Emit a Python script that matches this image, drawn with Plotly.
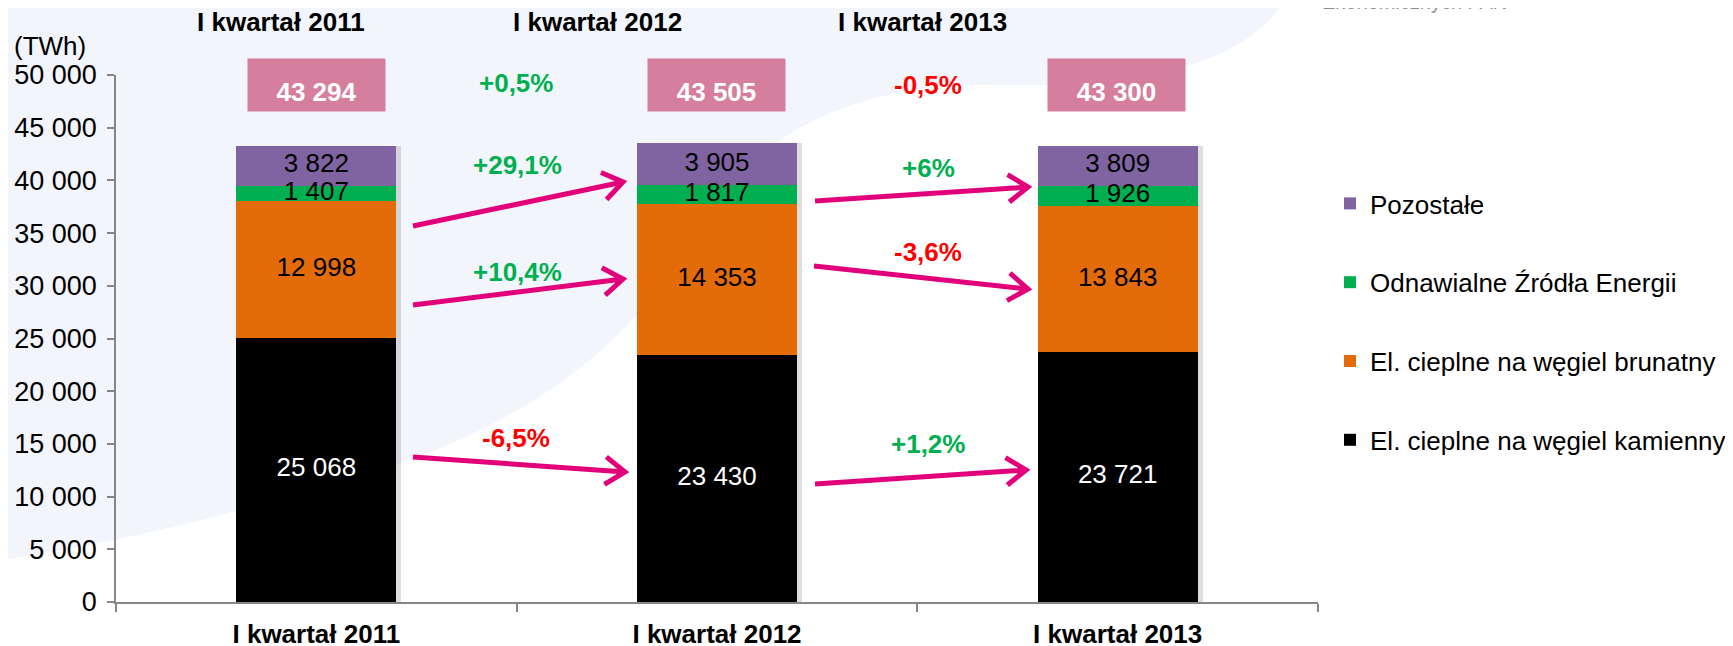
import math
import plotly.graph_objects as go

# ---------------- data ----------------
categories = ["I kwartał 2011", "I kwartał 2012", "I kwartał 2013"]
kamienny = [25068, 23430, 23721]
brunatny = [12998, 14353, 13843]
oze = [1407, 1817, 1926]
pozostale = [3822, 3905, 3809]
totals = [43294, 43505, 43300]
total_changes = ["+0,5%", "-0,5%"]
oze_changes = ["+29,1%", "+6%"]
brunatny_changes = ["+10,4%", "-3,6%"]
kamienny_changes = ["-6,5%", "+1,2%"]
series_names = ["El. cieplne na węgiel kamienny", "El. cieplne na węgiel brunatny",
                "Odnawialne Źródła Energii", "Pozostałe"]
top_titles = ["I kwartał 2011", "I kwartał 2012", "I kwartał 2013"]

# ---------------- style ----------------
FONT = "Liberation Sans, Arial, sans-serif"
colors = ["#000000", "#E36C09", "#00B050", "#8064A2"]
text_colors = ["#FFFFFF", "#000000", "#000000", "#000000"]
legend_ranks = [4, 3, 2, 1]
GREEN = "#00B050"
RED = "#FF0000"
PINK = "#D67E9D"
MAGENTA = "#E2007A"
AXIS = "#868686"

W, H = 1733, 646
OFF = 8                      # page offset of the figure inside the window
ML, MT = 108, 67
PW, PH = 1202, 527
MR, MB = W - ML - PW, H - MT - PH
YMAX = 50000


def paper(px, py):
    """window pixel -> paper coordinates"""
    return (px - OFF - ML) / PW, (MT + PH - (py - OFF)) / PH


def pt(px, py):
    x, y = paper(px, py)
    return f"{x:.5f},{y:.5f}"


def fmt(v):
    return f"{v:,}".replace(",", " ")


fig = go.Figure()

# soft shadow behind the stacks (primary x axis, main bars on the overlay axis)
fig.add_trace(go.Bar(
    x=categories, y=totals, xaxis="x", yaxis="y",
    width=0.4, offset=-0.2 + 5 / 400,
    marker=dict(color="rgba(0,0,0,0.13)", line=dict(width=0)),
    showlegend=False, hoverinfo="skip"))

series = [kamienny, brunatny, oze, pozostale]
for name, vals, col, rk in zip(series_names, series, colors, legend_ranks):
    fig.add_trace(go.Bar(
        x=categories, y=vals, name=name, xaxis="x2", yaxis="y",
        marker=dict(color=col, line=dict(width=0)),
        legendgroup=name, legendrank=rk,
    ))

# segment value labels, drawn above all bars
base = [0] * len(categories)
for vals, tcol in zip(series, text_colors):
    mids = [b + v / 2 for b, v in zip(base, vals)]
    fig.add_trace(go.Scatter(
        x=categories, y=mids, xaxis="x2", yaxis="y", mode="text",
        text=[fmt(v) for v in vals], textposition="middle center",
        textfont=dict(family=FONT, size=26, color=tcol),
        showlegend=False, hoverinfo="skip"))
    base = [b + v for b, v in zip(base, vals)]

annotations = []
shapes = []

# faint background watermark swoosh
sw = ("M " + pt(0, 0) + " L " + pt(1285, 0) + " Q " + pt(1230, 90) + " " + pt(1000, 85)
      + " Q " + pt(780, 80) + " " + pt(690, 240) + " Q " + pt(600, 400) + " " + pt(380, 470)
      + " Q " + pt(150, 540) + " " + pt(0, 560) + " Z")
shapes.append(dict(type="path", path=sw, xref="paper", yref="paper",
                   fillcolor="#F3F5FC", line=dict(width=0), layer="below"))


def label(text, px, py, size=26, color="#000000", bold=False, **kw):
    x, y = paper(px, py)
    f = dict(family=FONT, size=size, color=color)
    if bold:
        f["weight"] = "bold"
    d = dict(x=x, y=y, xref="paper", yref="paper", text=text, showarrow=False,
             xanchor="center", yanchor="middle", font=f)
    d.update(kw)
    annotations.append(d)


# y axis unit
label("(TWh)", 50, 46)

# top titles
for t, px in zip(top_titles, [281, 597, 922]):
    label(t, px, 22, bold=True)

# totals in pink boxes
for i, tot in enumerate(totals):
    label(fmt(tot), OFF + ML + 200 + 400 * i, 85, color="#FFFFFF",
          bold=True, bgcolor=PINK, width=129, height=44, borderpad=4, valign="bottom")

# percent labels
pct_labels = [
    (total_changes[0], 516, 83), (total_changes[1], 928, 85),
    (oze_changes[0], 517, 165), (oze_changes[1], 928, 168),
    (brunatny_changes[0], 517, 272), (brunatny_changes[1], 928, 252),
    (kamienny_changes[0], 516, 438), (kamienny_changes[1], 928, 444),
]
for txt, px, py in pct_labels:
    label(txt, px, py, color=RED if txt.startswith("-") else GREEN, bold=True)

# arrows (window pixel positions of tail and tip)
arrows = [
    (413, 226, 623, 182), (413, 305, 623, 279), (413, 457, 625, 472),
    (815, 201, 1028, 187), (814, 266, 1028, 289), (815, 484, 1026, 470),
]
HEAD = 24
ANG = math.radians(35)
for x0, y0, x1, y1 in arrows:
    a = math.atan2(y1 - y0, x1 - x0)
    hx1, hy1 = x1 - HEAD * math.cos(a - ANG), y1 - HEAD * math.sin(a - ANG)
    hx2, hy2 = x1 - HEAD * math.cos(a + ANG), y1 - HEAD * math.sin(a + ANG)
    path = ("M " + pt(x0, y0) + " L " + pt(x1, y1) + " M " + pt(hx1, hy1)
            + " L " + pt(x1, y1) + " L " + pt(hx2, hy2))
    shapes.append(dict(type="path", path=path, xref="paper", yref="paper",
                       line=dict(color=MAGENTA, width=5), layer="above"))

# source text, cut off at the top edge as in the original
label("Ekonomicznych PAN", 1414, 2, size=20, color="#8C8C8C")

fig.update_layout(
    width=W, height=H,
    margin=dict(l=ML, r=MR, t=MT, b=MB, autoexpand=False),
    paper_bgcolor="#FFFFFF", plot_bgcolor="rgba(0,0,0,0)",
    barmode="stack", bargap=0.6,
    separators=", ",
    font=dict(family=FONT, size=26, color="#000000"),
    showlegend=True,
    legend=dict(x=1.01, xanchor="left", y=0.8008, yanchor="top",
                traceorder="grouped", tracegroupgap=42,
                font=dict(family=FONT, size=26, color="#000000"),
                bgcolor="rgba(0,0,0,0)", itemclick=False),
    xaxis=dict(type="category", categoryorder="array", categoryarray=categories,
               range=[-0.5, 2.5], showline=True, linecolor=AXIS, linewidth=1.5,
               ticks="outside", tickson="boundaries", ticklen=8, tickcolor=AXIS, tickwidth=1.5,
               tickfont=dict(family=FONT, size=26, color="#000000", weight="bold"),
               ticklabelstandoff=8,
               showgrid=False, zeroline=False, automargin=False, fixedrange=True),
    xaxis2=dict(type="category", categoryorder="array", categoryarray=categories,
                range=[-0.5, 2.5], overlaying="x", matches="x", visible=False,
                showgrid=False, zeroline=False),
    yaxis=dict(range=[0, YMAX], dtick=5000, tickformat=",d", showline=True,
               linecolor=AXIS, linewidth=1.5, ticks="outside", ticklen=7, tickcolor=AXIS,
               tickwidth=1.5, showgrid=False, zeroline=False, automargin=False,
               ticklabelstandoff=5,
               tickfont=dict(family=FONT, size=27, color="#000000"), fixedrange=True),
    annotations=annotations,
    shapes=shapes,
)

fig.write_html("out.html")
